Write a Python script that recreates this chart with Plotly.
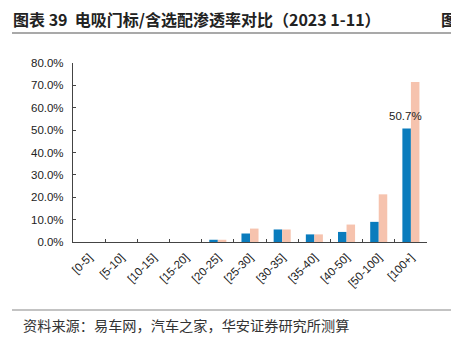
import plotly.graph_objects as go

categories = ["[0-5]", "[5-10]", "[10-15]", "[15-20]", "[20-25]", "[25-30]",
              "[30-35]", "[35-40]", "[40-50]", "[50-100]", "[100+]"]
standard = [0.0, 0.0, 0.0, 0.0, 1.0, 3.8, 5.6, 3.4, 4.5, 9.0, 50.7]
with_option = [0.0, 0.0, 0.0, 0.0, 1.0, 6.0, 5.6, 3.4, 7.8, 21.3, 71.5]
y_ticks = [0, 10, 20, 30, 40, 50, 60, 70, 80]

fig = go.Figure()
fig.add_trace(go.Bar(x=categories, y=standard, marker_color="#0a7cbd",
                     marker_line_width=0, name="电吸门标"))
fig.add_trace(go.Bar(x=categories, y=with_option, marker_color="#f6c3ae",
                     marker_line_width=0, name="含选配"))

fig.update_layout(
    width=451, height=345,
    margin=dict(l=73, r=24, t=63, b=103),
    paper_bgcolor="white", plot_bgcolor="white",
    barmode="group", bargap=0.47, bargroupgap=0,
    showlegend=False,
    font=dict(family="Liberation Sans, Arial", size=11, color="#222"),
)
fig.update_yaxes(range=[0, 80], tickvals=y_ticks,
                 ticktext=[f"{v:.1f}%" for v in y_ticks],
                 showgrid=False, zeroline=False, showline=True,
                 linecolor="#444", linewidth=1.2, ticks="inside",
                 ticklen=3, tickcolor="#444", tickfont=dict(size=11.5),
                 ticklabelstandoff=6)
fig.update_xaxes(showgrid=False, showline=True, linecolor="#444", linewidth=1.2,
                 ticks="inside", tickson="boundaries", ticklen=3, tickcolor="#444",
                 tickangle=-45, tickfont=dict(size=11.5), ticklabelstandoff=3)

# data label for the last blue bar (drawn above all bars)
fig.add_annotation(x=categories[-1], y=standard[-1], text=f"{standard[-1]}%",
                   showarrow=False, xshift=-5, yshift=5, yanchor="bottom",
                   font=dict(size=11.5, color="#222", family="Liberation Sans, Arial"))

plot_h = 345 - 63 - 103
plot_w = 451 - 73 - 24
def py(y_px):
    return (345 - 103 - y_px) / plot_h
def px(x_px):
    return (x_px - 73) / plot_w

cjk = "Noto Sans CJK SC"
fig.add_annotation(text="<b>图表 39  电吸门标/含选配渗透率对比（2023 1-11）</b>",
                   xref="paper", yref="paper", x=px(11), y=py(19),
                   showarrow=False, xanchor="left", yanchor="middle",
                   font=dict(family=cjk, size=16, color="#222"))
fig.add_annotation(text="<b>图</b>", xref="paper", yref="paper", x=px(439), y=py(19),
                   showarrow=False, xanchor="left", yanchor="middle",
                   font=dict(family=cjk, size=16, color="#222"))
fig.add_annotation(text="资料来源：易车网，汽车之家，华安证券研究所测算",
                   xref="paper", yref="paper", x=px(21), y=py(325), showarrow=False,
                   xanchor="left", yanchor="middle",
                   font=dict(family=cjk, size=14.2, color="#333"))

fig.add_shape(type="line", xref="paper", yref="paper", x0=px(12), x1=px(451),
              y0=py(33), y1=py(33), line=dict(color="#555", width=1.2))
fig.add_shape(type="line", xref="paper", yref="paper", x0=px(12), x1=px(451),
              y0=py(310), y1=py(310), line=dict(color="#888", width=1.2))

fig.write_html("out.html")
